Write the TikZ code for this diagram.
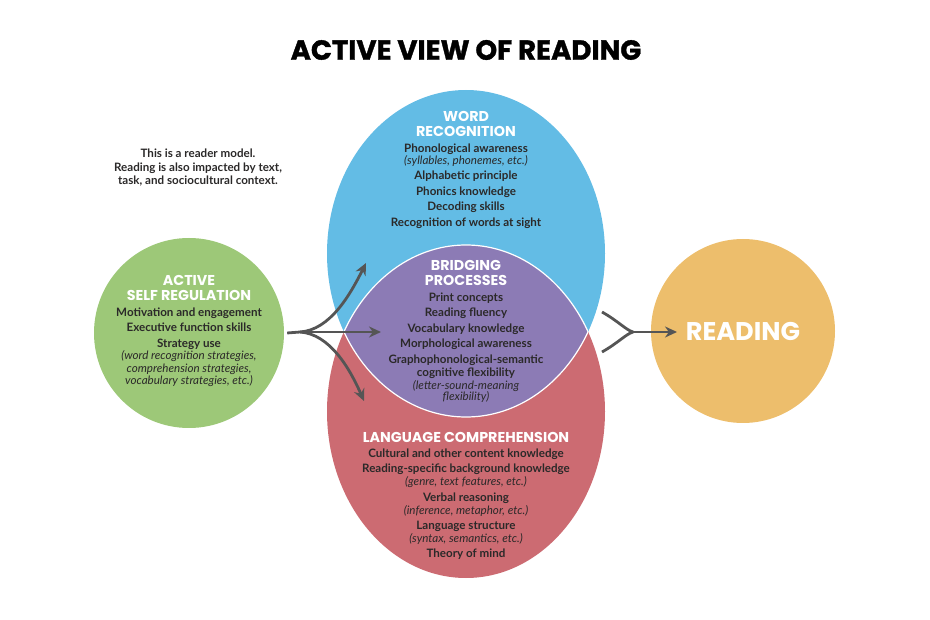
\documentclass[tikz,border=0pt]{standalone}
\usepackage{fontspec}
\setmainfont{Lato}
\newfontfamily\headfont{Poppins}
\newfontfamily\titlefont{Poppins}[BoldFeatures={FakeBold=1.2}]
\usetikzlibrary{arrows.meta}
\definecolor{wrblue}{HTML}{63BCE5}
\definecolor{lcred}{HTML}{CC6B72}
\definecolor{bppurple}{HTML}{8C7BB5}
\definecolor{asrgreen}{HTML}{9DC878}
\definecolor{rdorange}{HTML}{EDBE6C}
\definecolor{inkgray}{HTML}{2B2929}
\definecolor{arrowgray}{HTML}{555555}
\begin{document}
\begin{tikzpicture}[x=1pt,y=-1pt,
  heading/.style={text=white, font=\headfont\bfseries\fontsize{14.3}{14.5}\selectfont, align=center, inner sep=0pt},
  body/.style={text=inkgray, font=\bfseries\fontsize{11.6}{15.5}\selectfont, align=center, inner sep=0pt},
  flow/.style={draw=arrowgray, line width=2.8pt},
  tip/.style={-{Stealth[length=12pt,width=11pt]}}]
  \useasboundingbox (0,0) rectangle (930,620);
  \newcommand{\aside}[1]{{\mdseries\itshape #1}}

  % Title
  \node[text=black, font=\titlefont\bfseries\fontsize{27.6}{29}\selectfont] (title) at (466,50) {ACTIVE VIEW OF READING};

  % Note on the reader model
  \node[body, font=\bfseries\fontsize{11.6}{13.5}\selectfont] (note) at (198,168)
    {This is a reader model.\\Reading is also impacted by text,\\task, and sociocultural context.};

  % Word recognition and language comprehension
  \coordinate (wr) at (466,253.5);
  \coordinate (lc) at (466,411.5);
  \fill[wrblue] (wr) ellipse [x radius=139, y radius=163.5];
  \fill[lcred] (lc) ellipse [x radius=139, y radius=166.5];

  % Bridging processes (overlap)
  \begin{scope}
    \clip (wr) ellipse [x radius=139, y radius=163.5];
    \fill[bppurple] (lc) ellipse [x radius=139, y radius=166.5];
    \draw[white, line width=1.2pt] (lc) ellipse [x radius=139, y radius=166.5];
  \end{scope}
  \begin{scope}
    \clip (lc) ellipse [x radius=139, y radius=166.5];
    \draw[white, line width=1.2pt] (wr) ellipse [x radius=139, y radius=163.5];
  \end{scope}

  % Active self regulation and reading
  \node[circle, fill=asrgreen, minimum size=190pt, inner sep=0pt] (asr) at (189,333) {};
  \node[circle, fill=rdorange, minimum size=184pt, inner sep=0pt] (rd) at (743,331) {};

  % Texts of active self regulation
  \node[heading] (asrhead) at (189,288) {ACTIVE\\SELF REGULATION};
  \node[body] (asrbody) at (189,347) {Motivation and engagement\\Executive function skills\\Strategy use\\[-3pt]
    \aside{(word recognition strategies,}\\[-3pt]\aside{comprehension strategies,}\\[-3pt]\aside{vocabulary strategies, etc.)}};

  % Texts of word recognition
  \node[heading] (wrhead) at (466,124) {WORD\\RECOGNITION};
  \node[body] (wrbody) at (466,186) {Phonological awareness\\[-3.5pt]\aside{(syllables, phonemes, etc.)}\\
    Alphabetic principle\\Phonics knowledge\\Decoding skills\\Recognition of words at sight};

  % Texts of bridging processes
  \node[heading] (bphead) at (466,273) {BRIDGING\\PROCESSES};
  \node[body] (bpbody) at (466,347.5) {Print concepts\\Reading fluency\\Vocabulary knowledge\\Morphological awareness\\
    Graphophonological-semantic\\[-2.5pt]cognitive flexibility\\[-2.5pt]\aside{(letter-sound-meaning}\\[-4pt]\aside{flexibility)}};

  % Texts of language comprehension
  \node[heading] (lchead) at (466,437) {LANGUAGE COMPREHENSION};
  \node[body] (lcbody) at (466,504) {Cultural and other content knowledge\\Reading-specific background knowledge\\[-2.5pt]
    \aside{(genre, text features, etc.)}\\Verbal reasoning\\[-2.5pt]\aside{(inference, metaphor, etc.)}\\
    Language structure\\[-3pt]\aside{(syntax, semantics, etc.)}\\Theory of mind};

  % Reading
  \node[text=white, font=\headfont\bfseries\fontsize{25.6}{27}\selectfont] (rdhead) at (rd) {READING};

  % Arrows out of active self regulation
  \coordinate (split) at (300,332);
  \coordinate (wrtip) at (366,263);
  \coordinate (bptip) at (381,332);
  \coordinate (lctip) at (364,401);
  \draw[flow] ([xshift=3pt]asr.east) -- (split);
  \draw[flow, tip] (split) .. controls (330,330) and (350,295) .. (wrtip);
  \draw[flow, tip] (split) -- (bptip);
  \draw[flow, tip] (split) .. controls (330,334) and (350,369) .. (lctip);

  % Arrows into reading
  \coordinate (fromwr) at (602,312);
  \coordinate (fromlc) at (602,352);
  \coordinate (join) at (633,332);
  \coordinate (rdtip) at (677,332);
  \draw[flow] (fromwr) .. controls (618,321) and (626,330) .. (join);
  \draw[flow] (fromlc) .. controls (618,343) and (626,334) .. (join);
  \draw[flow, tip] (join) -- (rdtip);
\end{tikzpicture}
\end{document}
